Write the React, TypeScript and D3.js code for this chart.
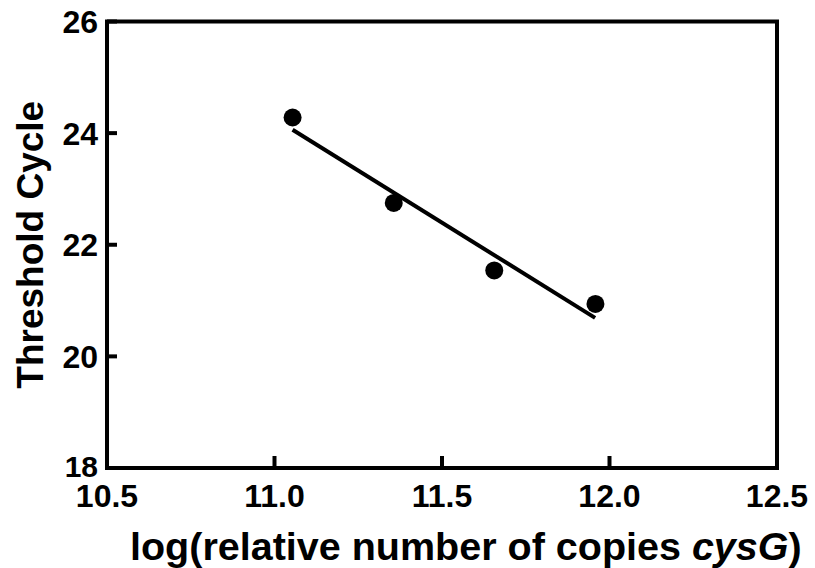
import React from "react";
import * as d3 from "d3";

const xTicks = [10.5, 11.0, 11.5, 12.0, 12.5];
const yTicks = [18, 20, 22, 24, 26];
const logCopies = [11.054, 11.356, 11.656, 11.958];
const thresholdCycle = [24.28, 22.75, 21.54, 20.94];
const fitX = [11.054, 11.957];
const fitY = [24.06, 20.69];

const W = 815;
const H = 568;
const FONT = "'Liberation Sans', Arial, Helvetica, sans-serif";

export default function App() {
  const x = d3.scaleLinear().domain([10.5, 12.5]).range([107, 777]);
  const y = d3.scaleLinear().domain([18, 26]).range([468, 21.5]);
  const line = d3
    .line<number>()
    .x((_, i) => x(fitX[i]))
    .y((d) => y(d));
  const x0 = x.range()[0];
  const x1 = x.range()[1];
  const y0 = y.range()[0];
  const y1 = y.range()[1];
  return (
    <svg
      width={W}
      height={H}
      style={{ position: "absolute", left: 0, top: 0, background: "#fff" }}
    >
      <rect x={0} y={0} width={W} height={H} fill="#fff" />
      <rect
        x={x0}
        y={y1}
        width={x1 - x0}
        height={y0 - y1}
        fill="none"
        stroke="#000"
        strokeWidth={4}
      />
      {yTicks.map((t) => (
        <g key={"y" + t}>
          <line x1={x0} x2={x0 + 10} y1={y(t)} y2={y(t)} stroke="#000" strokeWidth={4} />
          <text
            x={98}
            y={y(t) + (t === 18 ? 9 : 11.5)}
            textAnchor="end"
            fontFamily={FONT}
            fontWeight="bold"
            fontSize={t === 18 ? 30 : 32}
            fill="#000"
          >
            {t}
          </text>
        </g>
      ))}
      {xTicks.map((t) => (
        <g key={"x" + t}>
          <line x1={x(t)} x2={x(t)} y1={y0} y2={y0 - 12} stroke="#000" strokeWidth={4} />
          <text
            x={x(t)}
            y={507}
            textAnchor="middle"
            fontFamily={FONT}
            fontWeight="bold"
            fontSize={32}
            fill="#000"
          >
            {t.toFixed(1)}
          </text>
        </g>
      ))}
      <path d={line(fitY) || ""} fill="none" stroke="#000" strokeWidth={4} />
      {logCopies.map((v, i) => (
        <circle key={"p" + i} cx={x(v)} cy={y(thresholdCycle[i])} r={9} fill="#000" />
      ))}
      <text
        x={130}
        y={560}
        textAnchor="start"
        fontFamily={FONT}
        fontWeight="bold"
        fontSize={39.5}
        fill="#000"
      >
        log(relative number of copies <tspan fontStyle="italic">cysG</tspan>)
      </text>
      <text
        transform={`translate(43,${(y0 + y1) / 2}) rotate(-90)`}
        textAnchor="middle"
        fontFamily={FONT}
        fontWeight="bold"
        fontSize={37}
        fill="#000"
      >
        Threshold Cycle
      </text>
    </svg>
  );
}
